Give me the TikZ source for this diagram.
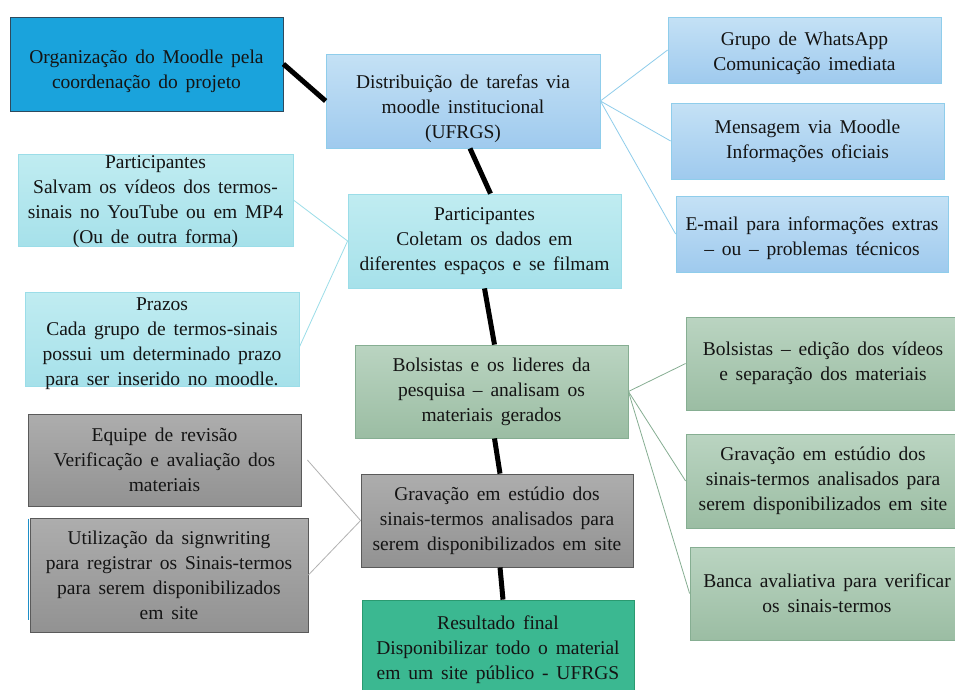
\documentclass[tikz,border=0pt]{standalone}
\usepackage{fontspec}
\setmainfont{Liberation Serif}
\newfontfamily\boxfont{Liberation Serif}
\newcommand\boxtext{\boxfont\fontsize{19.5}{25}\selectfont\spaceskip=0.4em\relax}
\newcommand\dropby[1]{\rule{0pt}{#1}}
\usetikzlibrary{calc}

\definecolor{orgfill}{HTML}{1AA3DC}
\definecolor{orgline}{HTML}{2E4A5E}
\definecolor{bluetop}{HTML}{C4E1F5}
\definecolor{bluebot}{HTML}{9FCAEE}
\definecolor{blueline}{HTML}{8FCDEB}
\definecolor{cyantop}{HTML}{C0ECF1}
\definecolor{cyanbot}{HTML}{A6E1EA}
\definecolor{cyanline}{HTML}{9BDDE8}
\definecolor{greentop}{HTML}{BAD4C1}
\definecolor{greenbot}{HTML}{9BBDA3}
\definecolor{greenline}{HTML}{86AE92}
\definecolor{graytop}{HTML}{ADADAD}
\definecolor{graybot}{HTML}{929292}
\definecolor{grayline}{HTML}{5A5A5A}
\definecolor{resfill}{HTML}{3BB891}
\definecolor{resline}{HTML}{2A9A70}
\definecolor{txt}{HTML}{141414}
\definecolor{accent}{HTML}{1E8FC8}

\begin{document}
\begin{tikzpicture}[x=1pt,y=-1pt,
  box/.style={rectangle, inner sep=0pt, align=center, line width=0.8pt,
    text=txt, font=\boxtext},
  boxsize/.style 2 args={minimum width=#1, minimum height=#2},
  orgbox/.style={box, fill=orgfill, draw=orgline},
  bluebox/.style={box, top color=bluetop, bottom color=bluebot, draw=blueline},
  cyanbox/.style={box, top color=cyantop, bottom color=cyanbot, draw=cyanline},
  greenbox/.style={box, top color=greentop, bottom color=greenbot, draw=greenline},
  graybox/.style={box, top color=graytop, bottom color=graybot, draw=grayline},
  resbox/.style={box, fill=resfill, draw=resline},
  trunk/.style={line width=5pt, black},
  twig/.style={line width=0.8pt}]

  \useasboundingbox (0,0) rectangle (955,689);
  \fill[white] (0,0) rectangle (955,689);

  % trunk
  \node[orgbox, boxsize={273}{94}] (org) at (146.5,64) {\dropby{28pt}Organização do Moodle pela\\coordenação do projeto};
  \node[bluebox, boxsize={274}{94}] (dist) at (463,101) {\dropby{29pt}Distribuição de tarefas via\\moodle institucional\\(UFRGS)};
  \node[cyanbox, boxsize={273}{94}] (partC) at (484.5,241) {Participantes\\Coletam os dados em\\diferentes espaços e se filmam};
  \node[greenbox, boxsize={273}{93}] (bolsC) at (491.5,391.5) {Bolsistas e os lideres da\\pesquisa – analisam os\\materiais gerados};
  \node[graybox, boxsize={272}{93}] (gravC) at (497,520.5) {Gravação em estúdio dos\\sinais-termos analisados para\\serem disponibilizados em site};
  \node[resbox, boxsize={272}{100}] (result) at (498,650) {Resultado final\\Disponibilizar todo o material\\em um site público - UFRGS};

  % branches
  \node[bluebox, boxsize={273}{66}] (whats) at (804.5,50) {\dropby{20pt}Grupo de WhatsApp\\Comunicação imediata};
  \node[bluebox, boxsize={273}{76}] (msg) at (807.5,141) {Mensagem via Moodle\\Informações oficiais};
  \node[bluebox, boxsize={272}{76}] (email) at (812,234) {\dropby{22pt}E-mail para informações extras\\– ou – problemas técnicos};

  \node[cyanbox, boxsize={275}{92}] (partL) at (155.5,200) {Participantes\\Salvam os vídeos dos termos-\\sinais no YouTube ou em MP4\\\smash{(Ou de outra forma)}};
  \node[cyanbox, boxsize={274}{94}] (prazos) at (162,339) {\dropby{17pt}Prazos\\Cada grupo de termos-sinais\\possui um determinado prazo\\\smash{para ser inserido no moodle.}};

  \node[greenbox, boxsize={274}{93}] (bolsR) at (823,363.5) {Bolsistas – edição dos vídeos\\e separação dos materiais};
  \node[greenbox, boxsize={274}{94}] (gravR) at (823,481) {Gravação em estúdio dos\\sinais-termos analisados para\\serem disponibilizados em site};
  \node[greenbox, boxsize={274}{93}] (banca) at (827,593.5) {Banca avaliativa para verificar\\os sinais-termos};

  \node[graybox, boxsize={273}{92}] (equipe) at (164.5,460) {Equipe de revisão\\Verificação e avaliação dos\\materiais};
  \node[graybox, boxsize={278}{114}] (util) at (169,575) {Utilização da signwriting\\para registrar os Sinais-termos\\para serem disponibilizados\\em site};
  \draw[accent, line width=1.5pt] ([xshift=-1pt,yshift=-1pt]util.north west) -- ([xshift=-1pt,yshift=12pt]util.south west);

  \draw[trunk] (org.east) -- (dist.west);
  \draw[trunk] ([xshift=7pt]dist.south) -- ([xshift=6pt]partC.north);
  \draw[trunk] (partC.south) -- ([xshift=3pt]bolsC.north);
  \draw[trunk] ([xshift=3pt]bolsC.south) -- ([xshift=3pt]gravC.north);
  \draw[trunk] ([xshift=3pt]gravC.south) -- ([xshift=5pt]result.north);

  \draw[twig, blueline] (whats.west) -- (dist.east) -- (msg.west);
  \draw[twig, blueline] (dist.east) -- (email.west);
  \draw[twig, cyanline] (partL.east) -- (partC.west) -- ([yshift=-8pt]prazos.east);
  \draw[twig, greenline] (bolsR.west) -- (bolsC.east) -- (gravR.west);
  \draw[twig, greenline] (bolsC.east) -- (banca.west);
  \draw[twig, gray!60] ([xshift=6pt]equipe.east) -- (gravC.west) -- (util.east);

\end{tikzpicture}
\end{document}
